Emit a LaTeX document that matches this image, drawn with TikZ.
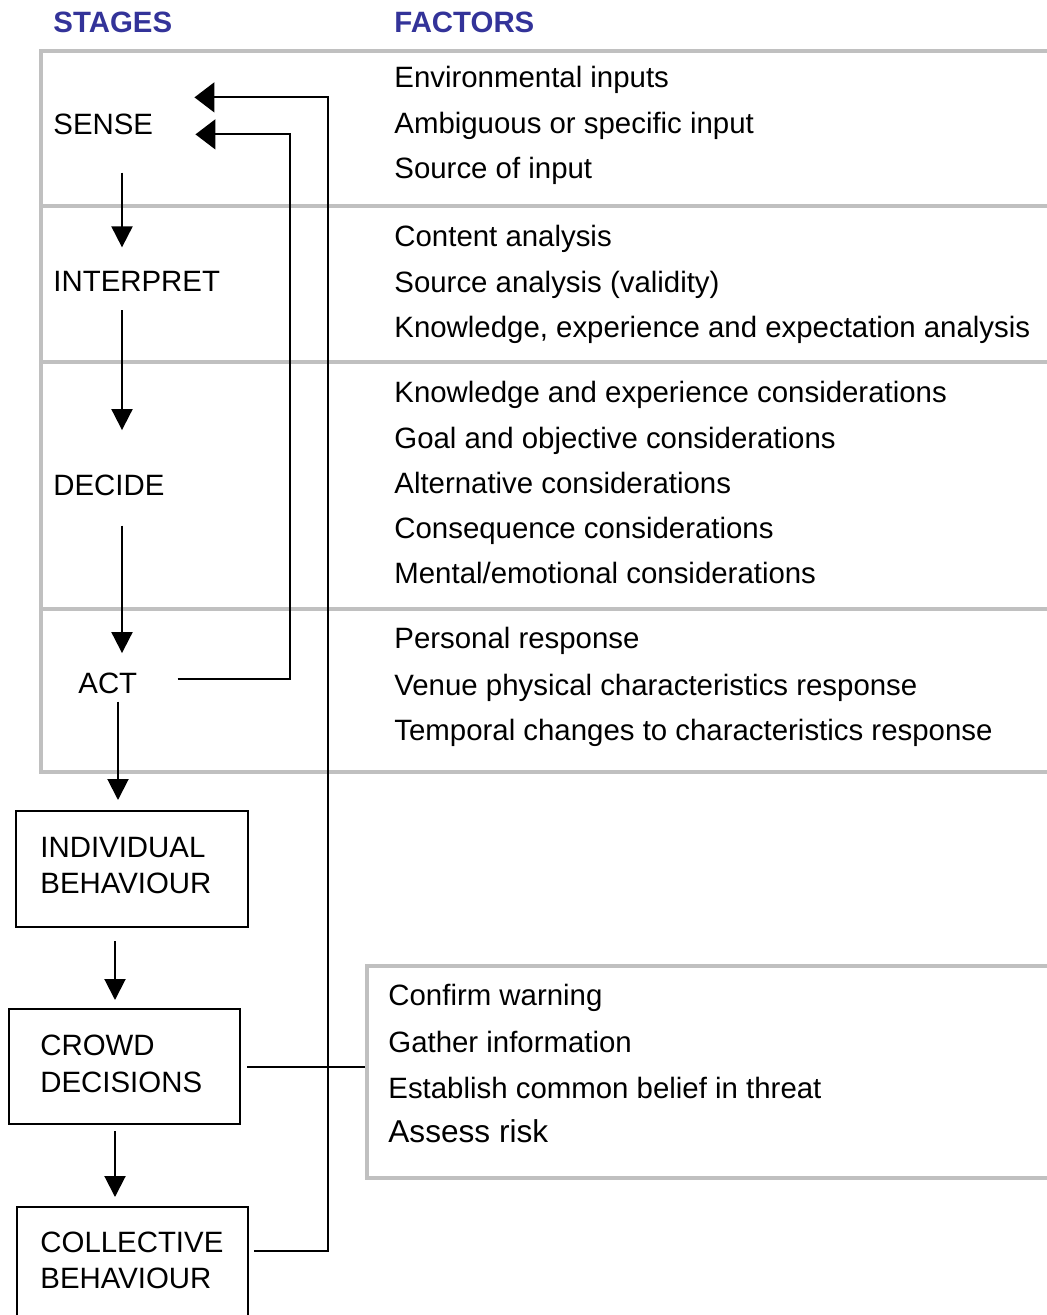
\documentclass[tikz,border=0pt]{standalone}
\usepackage{fontspec}
\setmainfont{Liberation Sans}
\usetikzlibrary{arrows.meta,calc}
\definecolor{stageblue}{HTML}{333399}
\definecolor{rulegray}{HTML}{C0C0C0}
\begin{document}
\begin{tikzpicture}[x=0.5pt,y=-0.5pt,
  txt/.style={anchor=base west,inner sep=0pt,font=\fontsize{14.7}{17}\selectfont},
  bigtxt/.style={anchor=base west,inner sep=0pt,font=\fontsize{15.8}{18}\selectfont},
  hdr/.style={anchor=base west,inner sep=0pt,font=\fontsize{14.7}{17}\selectfont\bfseries,text=stageblue},
  conn/.style={line width=1pt},
  varrow/.style={conn,-{Triangle[width=10.5pt,length=10.5pt]}},
  harrow/.style={conn,-{Triangle[width=15pt,length=10pt]}},
  grayrow/.style={draw=rulegray,line width=2pt,anchor=north west,inner sep=0pt},
  stagebox/.style={draw,line width=1pt,anchor=north west,inner sep=0pt},
]
\useasboundingbox (0,0) rectangle (1047,1315);

% gray factor panels (right side runs off the page)
\node[grayrow,minimum width=510pt,minimum height=77.5pt] (row1) at (39,49) {};
\node[grayrow,minimum width=510pt,minimum height=78pt] (row2) at (39,204) {};
\node[grayrow,minimum width=510pt,minimum height=123.5pt] (row3) at (39,360) {};
\node[grayrow,minimum width=510pt,minimum height=81.5pt] (row4) at (39,607) {};
\node[grayrow,minimum width=347.5pt,minimum height=106pt] (crowdfact) at (365,964) {};

% headers
\node[hdr] (stages) at (53,33) {STAGES};
\node[hdr] (factors) at (394,33) {FACTORS};

% stages
\node[txt] (sense) at (53,135) {SENSE};
\node[txt] (interp) at (53,292) {INTERPRET};
\node[txt] (decide) at (53,495) {DECIDE};
\node[txt] (act) at (78,693) {ACT};

% factors
\node[txt] (f11) at (394,88) {Environmental inputs};
\node[txt] (f12) at (394,134) {Ambiguous or specific input};
\node[txt] (f13) at (394,179) {Source of input};
\node[txt] (f21) at (394,247) {Content analysis};
\node[txt] (f22) at (394,293) {Source analysis (validity)};
\node[txt] (f23) at (394,338) {Knowledge, experience and expectation analysis};
\node[txt] (f31) at (394,402) {Knowledge and experience considerations};
\node[txt] (f32) at (394,448) {Goal and objective considerations};
\node[txt] (f33) at (394,493) {Alternative considerations};
\node[txt] (f34) at (394,538) {Consequence considerations};
\node[txt] (f35) at (394,583) {Mental/emotional considerations};
\node[txt] (f41) at (394,648) {Personal response};
\node[txt] (f42) at (394,695) {Venue physical characteristics response};
\node[txt] (f43) at (394,740) {Temporal changes to characteristics response};

% crowd factors
\node[txt] (c1) at (388,1005) {Confirm warning};
\node[txt] (c2) at (388,1052) {Gather information};
\node[txt] (c3) at (388,1098) {Establish common belief in threat};
\node[bigtxt] (c4) at (388,1142) {Assess risk};

% behaviour boxes
\node[stagebox,minimum width=116pt,minimum height=58pt] (indbox) at (15,810) {};
\node[txt] (ind1) at (40,857) {INDIVIDUAL};
\node[txt] (ind2) at (40,893) {BEHAVIOUR};
\node[stagebox,minimum width=115.5pt,minimum height=57.5pt] (crowdbox) at (8,1008) {};
\node[txt] (cr1) at (40,1055) {CROWD};
\node[txt] (cr2) at (40,1092) {DECISIONS};
\node[stagebox,minimum width=115.5pt,minimum height=65pt] (collbox) at (16,1206) {};
\node[txt] (co1) at (40,1252) {COLLECTIVE};
\node[txt] (co2) at (40,1288) {BEHAVIOUR};

% column guides
\coordinate (colA) at (122,0);
\coordinate (colB) at (118,0);
\coordinate (colC) at (115,0);
\coordinate (loopA) at (290,0);
\coordinate (loopB) at (328,0);

% downward arrows
\draw[varrow] ($(sense.south -| colA)+(0,37)$) -- ($(interp.north -| colA)+(0,-24)$);
\draw[varrow] ($(interp.south -| colA)+(0,18)$) -- ($(decide.north -| colA)+(0,-44)$);
\draw[varrow] ($(decide.south -| colA)+(0,30)$) -- ($(act.north -| colA)+(0,-19)$);
\draw[varrow] ($(act.south -| colB)+(0,8)$) -- ($(indbox.north -| colB)+(0,-10)$);
\draw[varrow] ($(indbox.south -| colC)+(0,13)$) -- ($(crowdbox.north -| colC)+(0,-8)$);
\draw[varrow] ($(crowdbox.south -| colC)+(0,6)$) -- ($(collbox.north -| colC)+(0,-9)$);

% feedback loops
\draw[harrow] ($(act.east)+(40,-3.5)$) -| ($(sense.east -| loopA)+(0,9.5)$) -- ($(sense.east)+(42,9.5)$);
\draw[harrow] ($(collbox.north east)+(5,45)$) -| ($(sense.east -| loopB)+(0,-27.5)$) -- ($(sense.east)+(41,-27.5)$);

% crowd decisions to factors
\draw[conn] ($(crowdbox.east)+(6,0)$) -- (crowdfact.west |- crowdbox.east);
\end{tikzpicture}
\end{document}
